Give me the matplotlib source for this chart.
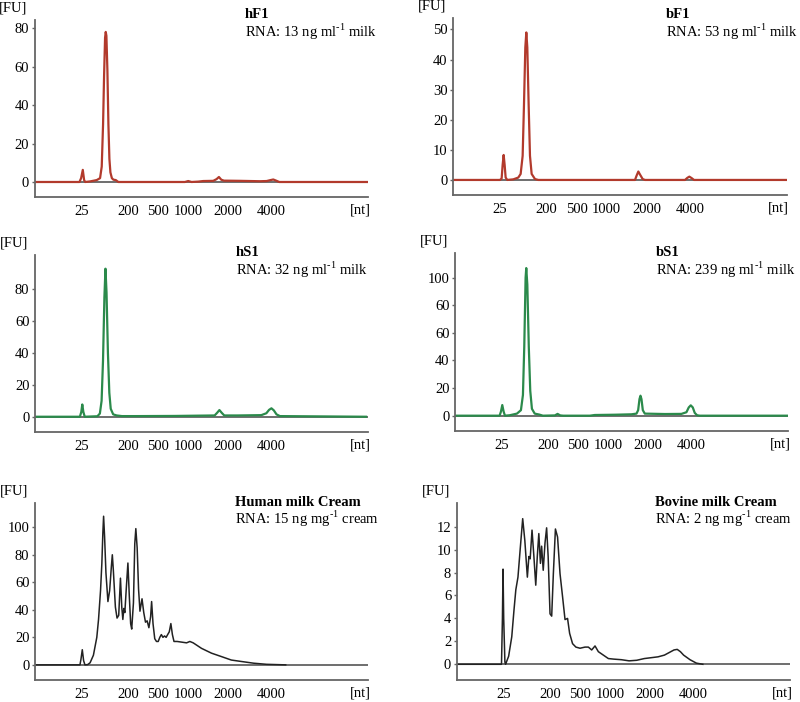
import matplotlib
matplotlib.use("Agg")
import matplotlib.pyplot as plt

plt.rcParams['font.family'] = ['Liberation Serif', 'DejaVu Serif']
plt.rcParams['mathtext.fontset'] = 'custom'
plt.rcParams['mathtext.rm'] = 'Liberation Serif'

# migration time (s) of the ladder peaks and their sizes
ladder_t = [26, 33, 37.5, 42, 48, 54.5]
ladder_nt = ['25', '200', '500', '1000', '2000', '4000']

# hF1 (human milk, fraction 1)
hF1_t = [19.1, 25.74, 25.99, 26.24, 26.44, 26.6, 27.33, 28.33, 28.83, 29.08, 29.28,
         29.43, 29.58, 29.68, 29.78, 29.93, 30.08, 30.23, 30.38, 30.6, 30.83, 31.18,
         31.57, 41.55, 42.05, 42.55, 43.55, 44.3, 45.8, 46.3, 46.65, 47.0, 47.4, 49.8,
         52.8, 53.8, 54.4, 54.8, 55.3, 55.7, 69.0]
hF1_fu = [0, 0, 2, 6.3, 1, 0, 0.3, 1, 2, 8, 30,
          55, 75, 78, 76, 58, 30, 12, 5, 2, 1.2, 1,
          0, 0, 0.5, 0, 0.2, 0.5, 0.6, 1.5, 2.6, 1.2, 0.7, 0.6,
          0.4, 0.5, 1.0, 1.3, 0.6, 0, 0]

# bF1 (bovine milk, fraction 1)
bF1_t = [19.0, 26.0, 26.25, 26.4, 26.55, 26.7, 26.85, 27.1, 28.0, 28.75, 29.1, 29.4,
         29.6, 29.8, 29.95, 30.1, 30.3, 30.5, 30.75, 31.25, 31.75, 46.25, 46.5, 46.75,
         47.0, 47.4, 47.75, 53.75, 54.1, 54.4, 54.75, 55.1, 69.0]
bF1_fu = [0, 0, 0.5, 5, 8.3, 5, 0.8, 0, 0.2, 0.8, 2, 8,
          25, 44, 49, 44, 25, 8, 2, 0.3, 0, 0, 1.5, 2.8,
          1.8, 0.3, 0, 0, 0.7, 1.1, 0.6, 0, 0]

# hS1 (human milk, fraction S1)
hS1_t = [19.0, 25.74, 25.95, 26.1, 26.26, 26.47, 28.37, 28.74, 29.0, 29.21, 29.42,
         29.58, 29.74, 29.95, 30.16, 30.37, 30.74, 31.26, 32.05, 34.1, 40.0, 45.97,
         46.35, 46.69, 47.03, 47.42, 49.42, 52.98, 53.74, 54.14, 54.5, 54.86, 55.26,
         55.77, 68.7]
hS1_fu = [0, 0, 3, 7.7, 3, 0, 0.3, 2, 10, 35, 75,
          93, 78, 40, 15, 5, 1.5, 0.8, 0.4, 0.4, 0.5, 0.8,
          2.5, 4.2, 2.5, 0.8, 0.8, 1.0, 2.2, 4.3, 5.3, 4, 1.5,
          0.4, 0]

# bS1 (bovine milk, fraction S1)
bS1_t = [19.0, 25.7, 25.9, 26.1, 26.3, 26.5, 27.2, 28.3, 28.9, 29.2, 29.4, 29.6, 29.7,
         29.86, 30.08, 30.3, 30.55, 30.97, 31.66, 32.2, 34.0, 34.4, 34.8, 35.25, 39.25,
         40.0, 43.0, 45.5, 46.25, 46.5, 46.7, 46.85, 47.0, 47.2, 47.5, 50.5, 53.0, 53.75,
         54.1, 54.4, 54.7, 55.0, 55.35, 55.75, 69.0]
bS1_fu = [0, 0, 3, 7.7, 3, 0, 0.3, 1.5, 4, 15, 50, 100, 107,
          95, 50, 18, 5, 1.5, 0.8, 0, 0.2, 1.3, 0.2, 0, 0,
          0.5, 0.7, 1, 1.5, 4, 12, 14.5, 12, 4, 1.5, 1.2, 1.3, 2.5,
          6, 7.5, 6, 2, 0.3, 0, 0]

# human milk cream
hCr_t = [19.0, 25.75, 25.9, 26.1, 26.3, 26.5, 26.91, 27.27, 27.77, 28.28, 28.54, 28.84,
         29.04, 29.19, 29.3, 29.45, 29.65, 29.95, 30.21, 30.46, 30.61, 30.76, 31.07,
         31.32, 31.57, 31.83, 32.03, 32.19, 32.34, 32.49, 32.7, 32.95, 33.16, 33.36,
         33.52, 33.78, 33.98, 34.14, 34.34, 34.55, 34.76, 35.07, 35.33, 35.59, 35.84,
         36.1, 36.36, 36.51, 36.72, 36.98, 37.24, 37.5, 37.74, 37.97, 38.21, 38.45,
         38.69, 38.92, 39.16, 39.4, 39.63, 39.87, 40.34, 41.05, 41.76, 42.25, 42.75,
         44.0, 45.5, 47.0, 48.48, 49.92, 51.84, 53.76, 56.64]
hCr_fu = [0, 0, 4, 11, 3, 0, 0.2, 1.5, 7, 20, 33, 54,
          74, 96, 108, 93, 67, 46, 54, 71, 80, 69, 42,
          34, 36, 63, 42, 33, 41, 38, 55, 74, 50, 30,
          26, 45, 88, 99, 85, 55, 39, 48, 38, 31, 32,
          27, 35, 46, 30, 19, 17, 17, 20, 22, 20, 21,
          20, 22, 24, 30, 22, 17, 17, 16.5, 16, 17, 16,
          12, 8.5, 6, 3.5, 2.5, 1.2, 0.4, 0]

# bovine milk cream
bCr_t = [19.0, 25.72, 25.86, 25.95, 26.05, 26.23, 26.33, 26.79, 27.26, 27.59, 27.87,
         28.19, 28.52, 28.9, 29.22, 29.6, 29.83, 30.02, 30.3, 30.58, 30.86, 31.09,
         31.32, 31.56, 31.74, 31.98, 32.25, 32.49, 32.72, 33.0, 33.25, 33.5, 33.81,
         34.13, 34.5, 34.88, 35.25, 35.63, 35.94, 36.38, 36.88, 37.5, 38.25, 38.75,
         39.25, 39.75, 40.25, 41.0, 41.75, 42.57, 43.71, 44.86, 46.0, 47.14, 49.2,
         50.16, 51.12, 51.6, 52.08, 52.56, 53.04, 54.0, 54.96, 55.92]
bCr_fu = [0, 0, 4, 8.3, 4, 0.2, 0, 0.7, 2.4, 4.7, 6.5,
          7.6, 10, 12.7, 10.8, 7.6, 9.4, 9.2, 11.7, 9.4, 6.9, 9.4,
          11.4, 8.8, 10.3, 8.2, 10.6, 11.9, 9.4, 4.4, 4.2, 7.9, 11.8,
          11.1, 7.9, 5.9, 3.9, 4.0, 2.7, 1.8, 1.5, 1.4, 1.5, 1.5,
          1.25, 1.6, 1.1, 0.8, 0.5, 0.45, 0.4, 0.3, 0.35, 0.5, 0.65,
          0.8, 1.1, 1.25, 1.3, 1.1, 0.8, 0.4, 0.1, 0]

RED = '#b23a2c'
GREEN = '#2b8a4b'
BLACK = '#222222'

W, H = 800, 702
fig = plt.figure(figsize=(8, 7.02), dpi=100)


def panel(box, t, fu, color, lw, ylim, yticks, ylabels, title, sub, tx, ty):
    left, top, right, bottom = box
    ax = fig.add_axes([left / W, 1 - bottom / H, (right - left) / W, (bottom - top) / H])
    ax.axhline(0, color='#555555', lw=1.2, zorder=1)
    ax.plot(t, fu, color=color, lw=lw, zorder=2)
    ax.set_xlim(19, 69)
    ax.set_ylim(*ylim)
    ax.set_xticks(ladder_t)
    ax.set_xticklabels(ladder_nt)
    ax.set_yticks(yticks)
    ax.set_yticklabels(ylabels)
    ax.tick_params(axis='x', length=0, pad=6, labelsize=10.5)
    ax.tick_params(axis='y', length=2, width=1, color='#666666', pad=2, labelsize=10.5)
    for s in ['top', 'right']:
        ax.spines[s].set_visible(False)
    for s in ['left', 'bottom']:
        ax.spines[s].set_color('#666666')
        ax.spines[s].set_linewidth(1.3)
    ax.annotate('[FU]', xy=(0, 1), xycoords='axes fraction', xytext=(-21, 12),
                textcoords='offset pixels', ha='center', va='center', fontsize=10.5)
    ax.annotate('[nt]', xy=(1, 0), xycoords='axes fraction', xytext=(-8, -13),
                textcoords='offset pixels', ha='center', va='center', fontsize=10.5)
    # sample name and RNA yield
    fig.text(tx / W, 1 - ty / H, title, fontweight='bold', fontsize=10.5,
             ha='left', va='center')
    fig.text(tx / W, 1 - (ty + 17) / H, sub, fontsize=10.5, ha='left', va='center')
    return ax


panel((34.5, 20, 368, 197), hF1_t, hF1_fu, RED, 1.6, (-7.8, 84.2),
      [0, 20, 40, 60, 80], ['0', '20', '40', '60', '80'],
      'hF1', r'RNA: 13 ng ml$^{\text{-1}}$ milk', 245, 15)
panel((453.3, 18.3, 786.7, 195), bF1_t, bF1_fu, RED, 1.6, (-5, 53.7),
      [0, 10, 20, 30, 40, 50], ['0', '10', '20', '30', '40', '50'],
      'bF1', r'RNA: 53 ng ml$^{\text{-1}}$ milk', 666, 15)
panel((35, 255, 368, 431.7), hS1_t, hS1_fu, GREEN, 1.6, (-9.4, 101.6),
      [0, 20, 40, 60, 80], ['0', '20', '40', '60', '80'],
      'hS1', r'RNA: 32 ng ml$^{\text{-1}}$ milk', 236, 253)
panel((455, 253.3, 788, 431), bS1_t, bS1_fu, GREEN, 1.6, (-11.1, 117.7),
      [0, 20, 40, 60, 80, 100], ['0', '20', '40', '60', '60', '100'],
      'bS1', r'RNA: 239 ng ml$^{\text{-1}}$ milk', 656, 253)
panel((35, 503.3, 368, 680), hCr_t, hCr_fu, BLACK, 1.1, (-11, 117.4),
      [0, 20, 40, 60, 80, 100], ['0', '20', '40', '60', '80', '100'],
      'Human milk Cream', r'RNA: 15 ng mg$^{\text{-1}}$ cream', 235, 502)
panel((456.7, 503.3, 790, 680), bCr_t, bCr_fu, BLACK, 1.1, (-1.37, 14.04),
      [0, 2, 4, 6, 8, 10, 12], ['0', '2', '4', '6', '8', '10', '12'],
      'Bovine milk Cream', r'RNA: 2 ng mg$^{\text{-1}}$ cream', 655, 502)

fig.savefig('out.png', dpi=100)
